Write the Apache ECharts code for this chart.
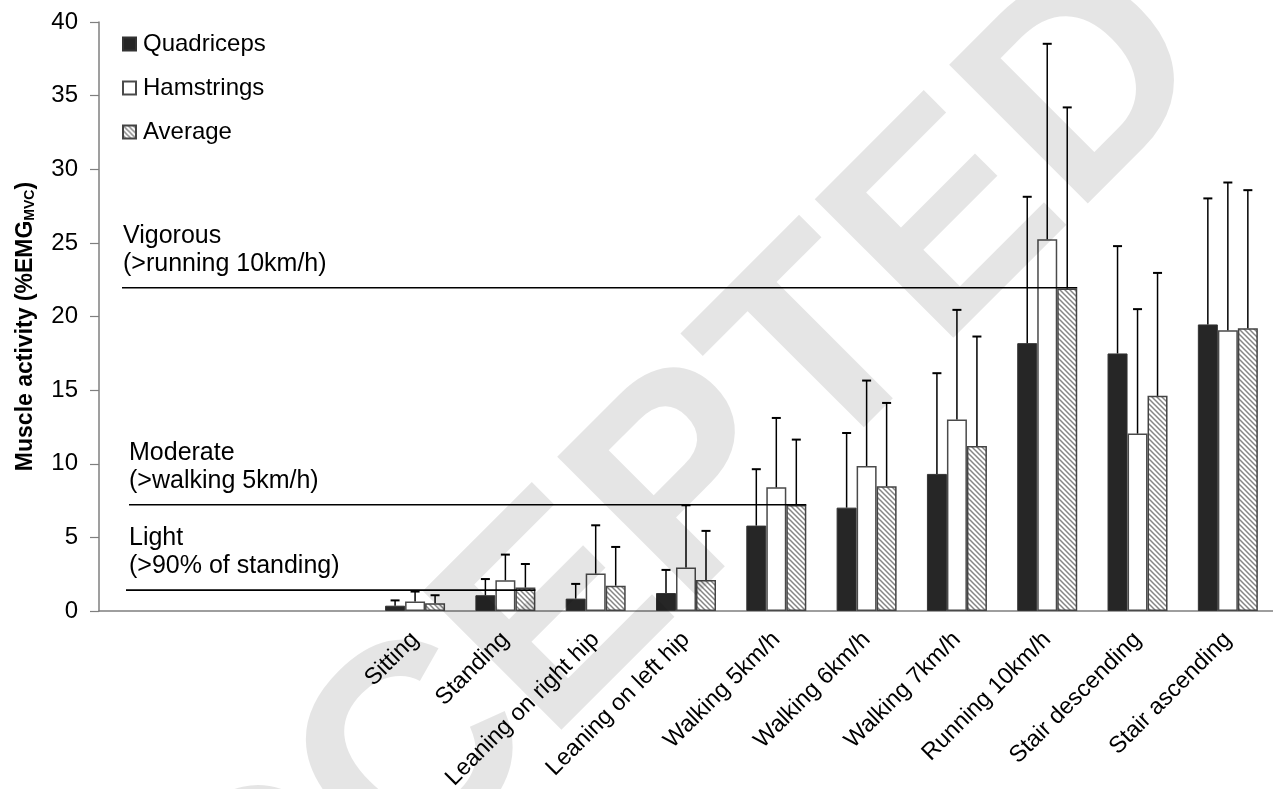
<!DOCTYPE html>
<html>
<head>
<meta charset="utf-8">
<script src="https://cdn.jsdelivr.net/npm/echarts@6/dist/echarts.min.js"></script>
<style>
html,body{margin:0;padding:0;background:#fff;}
#chart{width:1273px;height:789px;}
</style>
</head>
<body>
<div id="chart"></div>
<script>
// ---------------- data ----------------
const CATEGORIES = ['', '', '', 'Sitting', 'Standing', 'Leaning on right hip', 'Leaning on left hip',
  'Walking 5km/h', 'Walking 6km/h', 'Walking 7km/h', 'Running 10km/h', 'Stair descending', 'Stair ascending'];
const SERIES_NAMES = ['Quadriceps', 'Hamstrings', 'Average'];
const QUAD     = [null, null, null, 0.36, 1.07, 0.84, 1.22, 5.80, 7.02, 9.31, 18.19, 17.49, 19.46];
const QUAD_SD  = [null, null, null, 0.36, 1.10, 1.00, 1.57, 3.83, 5.07, 6.84, 9.94, 7.29, 8.56];
const HAM      = [null, null, null, 0.64, 2.09, 2.54, 2.95, 8.40, 9.85, 13.00, 25.25, 12.05, 19.07];
const HAM_SD   = [null, null, null, 0.68, 1.74, 3.28, 4.23, 4.71, 5.80, 7.45, 13.27, 8.45, 10.03];
const AVG      = [null, null, null, 0.52, 1.59, 1.72, 2.11, 7.20, 8.47, 11.21, 21.90, 14.61, 19.20];
const AVG_SD   = [null, null, null, 0.55, 1.60, 2.63, 3.33, 4.44, 5.66, 7.43, 12.30, 8.35, 9.38];
const LEVEL_NAMES  = ['Vigorous', 'Moderate', 'Light'];
const LEVEL_NOTES  = ['(>running 10km/h)', '(>walking 5km/h)', '(>90% of standing)'];
const LEVEL_VALUES = [21.95, 7.22, 1.42];
const LEVEL_END    = ['Running 10km/h', 'Walking 5km/h', 'Standing'];
const Y_TICKS = [0, 5, 10, 15, 20, 25, 30, 35, 40];
const Y_TITLE = 'Muscle activity (%EMG';
const Y_TITLE_SUB = 'MVC';
const WATERMARK = 'ACCEPTED';

// ---------------- styles ----------------
const FONT = 'Liberation Sans, Arial, sans-serif';
const BAR_W = 20;
const CAP = 9;
const LINE_START = [23, 30, 27];   // px from plot left edge
const TEXT_START = [24, 30, 30];

function hatchCanvas() {
  const s = 5;
  const c = document.createElement('canvas');
  c.width = s; c.height = s;
  const g = c.getContext('2d');
  g.fillStyle = '#ffffff';
  g.fillRect(0, 0, s, s);
  g.strokeStyle = '#858585';
  g.lineWidth = 1.5;
  g.beginPath();
  g.moveTo(-1, -1); g.lineTo(s + 1, s + 1);
  g.moveTo(-1, s - 1); g.lineTo(1, s + 1);
  g.moveTo(s - 1, -1); g.lineTo(s + 1, 1);
  g.stroke();
  return c;
}

const chart = echarts.init(document.getElementById('chart'), null, {renderer: 'canvas'});

function errData(means, sds) {
  const out = [];
  means.forEach((m, i) => { if (m != null) out.push([i, m, sds[i]]); });
  return out;
}
function errSeries(k, means, sds) {
  return {
    type: 'custom',
    name: SERIES_NAMES[k] + ' SD',
    z: 4,
    silent: true,
    data: errData(means, sds),
    encode: {x: 0, y: 1},
    renderItem: function (params, api) {
      const i = api.value(0), m = api.value(1), s = api.value(2);
      const p0 = api.coord([i, m]);
      const p1 = api.coord([i, m + s]);
      const x = p0[0] + (k - 1) * BAR_W;
      return {
        type: 'group',
        children: [
          {type: 'line', shape: {x1: x, y1: p0[1], x2: x, y2: p1[1]}, style: {stroke: '#000', lineWidth: 1.5}},
          {type: 'line', shape: {x1: x - CAP / 2, y1: p1[1], x2: x + CAP / 2, y2: p1[1]}, style: {stroke: '#000', lineWidth: 2}}
        ]
      };
    }
  };
}

const levelSeries = {
  type: 'custom',
  name: 'levels',
  z: 5,
  silent: true,
  data: LEVEL_VALUES.map((v, i) => [0, v, CATEGORIES.indexOf(LEVEL_END[i])]),
  encode: {x: 0, y: 1},
  renderItem: function (params, api) {
    const idx = params.dataIndex;
    const v = api.value(1);
    const endIdx = api.value(2);
    const band = api.size([1, 0])[0];
    const p0 = api.coord([0, v]);
    const pe = api.coord([endIdx, v]);
    const left = p0[0] - band / 2;
    const x0 = left + LINE_START[idx];
    const x1 = pe[0] + 1.5 * BAR_W;
    return {
      type: 'group',
      children: [
        {type: 'line', shape: {x1: x0, y1: p0[1], x2: x1, y2: p0[1]}, style: {stroke: '#000', lineWidth: 1.6}},
        {type: 'text', x: left + TEXT_START[idx], y: p0[1] - 10,
          style: {text: LEVEL_NAMES[idx] + '\n' + LEVEL_NOTES[idx], fill: '#000',
            font: '25px ' + FONT, lineHeight: 28, align: 'left', verticalAlign: 'bottom'}}
      ]
    };
  }
};

const option = {
  backgroundColor: '#ffffff',
  animation: false,
  textStyle: {fontFamily: FONT},
  grid: {left: 99, right: 0, top: 22, bottom: 178, containLabel: false, outerBoundsMode: 'none'},
  legend: {
    data: SERIES_NAMES,
    orient: 'vertical',
    left: 122, top: 32,
    padding: 0,
    itemWidth: 13, itemHeight: 13,
    itemGap: 20,
    icon: 'rect',
    selectedMode: false,
    textStyle: {fontSize: 24, color: '#000', fontFamily: FONT, lineHeight: 24, padding: [0, 0, 0, 2]}
  },
  xAxis: {
    type: 'category',
    data: CATEGORIES,
    axisLine: {lineStyle: {color: '#7f7f7f', width: 1.5}},
    axisTick: {show: false},
    axisLabel: {interval: 0, rotate: 45, margin: 25, fontSize: 23.5, color: '#000', fontFamily: FONT}
  },
  yAxis: {
    type: 'value',
    min: Y_TICKS[0], max: Y_TICKS[Y_TICKS.length - 1], interval: Y_TICKS[1] - Y_TICKS[0],
    name: '{b|' + Y_TITLE + '}{s|' + Y_TITLE_SUB + '}{b|)}',
    nameLocation: 'middle',
    nameRotate: 90,
    nameGap: 62,
    nameTextStyle: {
      padding: [0, 20, 0, 0],
      rich: {
        b: {fontSize: 23, fontWeight: 'bold', color: '#000', fontFamily: FONT},
        s: {fontSize: 14, fontWeight: 'bold', color: '#000', fontFamily: FONT, verticalAlign: 'bottom', padding: [9, 0, 0, 0]}
      }
    },
    splitLine: {show: false},
    axisLine: {show: true, lineStyle: {color: '#7f7f7f', width: 1.5}},
    axisTick: {show: true, length: 9, lineStyle: {color: '#7f7f7f', width: 1.2}},
    axisLabel: {margin: 21, fontSize: 24, color: '#000', fontFamily: FONT}
  },
  series: [
    {type: 'bar', name: SERIES_NAMES[0], data: QUAD, barWidth: BAR_W, barGap: '0%', z: 2,
      itemStyle: {color: '#262626', borderColor: '#333333', borderWidth: 1}},
    {type: 'bar', name: SERIES_NAMES[1], data: HAM, barWidth: BAR_W, barGap: '0%', z: 2,
      itemStyle: {color: '#ffffff', borderColor: '#4a4a4a', borderWidth: 1.5}},
    {type: 'bar', name: SERIES_NAMES[2], data: AVG, barWidth: BAR_W, barGap: '0%', z: 2,
      itemStyle: {color: {image: hatchCanvas(), repeat: 'repeat'}, borderColor: '#444444', borderWidth: 1.5}},
    errSeries(0, QUAD, QUAD_SD),
    errSeries(1, HAM, HAM_SD),
    errSeries(2, AVG, AVG_SD),
    levelSeries
  ],
  graphic: [
    {type: 'text', x: 610, y: 570, rotation: Math.PI / 4, z: 100, silent: true,
      style: {text: WATERMARK, font: 'bold 285px ' + FONT, fill: 'rgba(0,0,0,0.1)', align: 'center', verticalAlign: 'middle'}}
  ]
};
chart.setOption(option);
</script>
</body>
</html>
